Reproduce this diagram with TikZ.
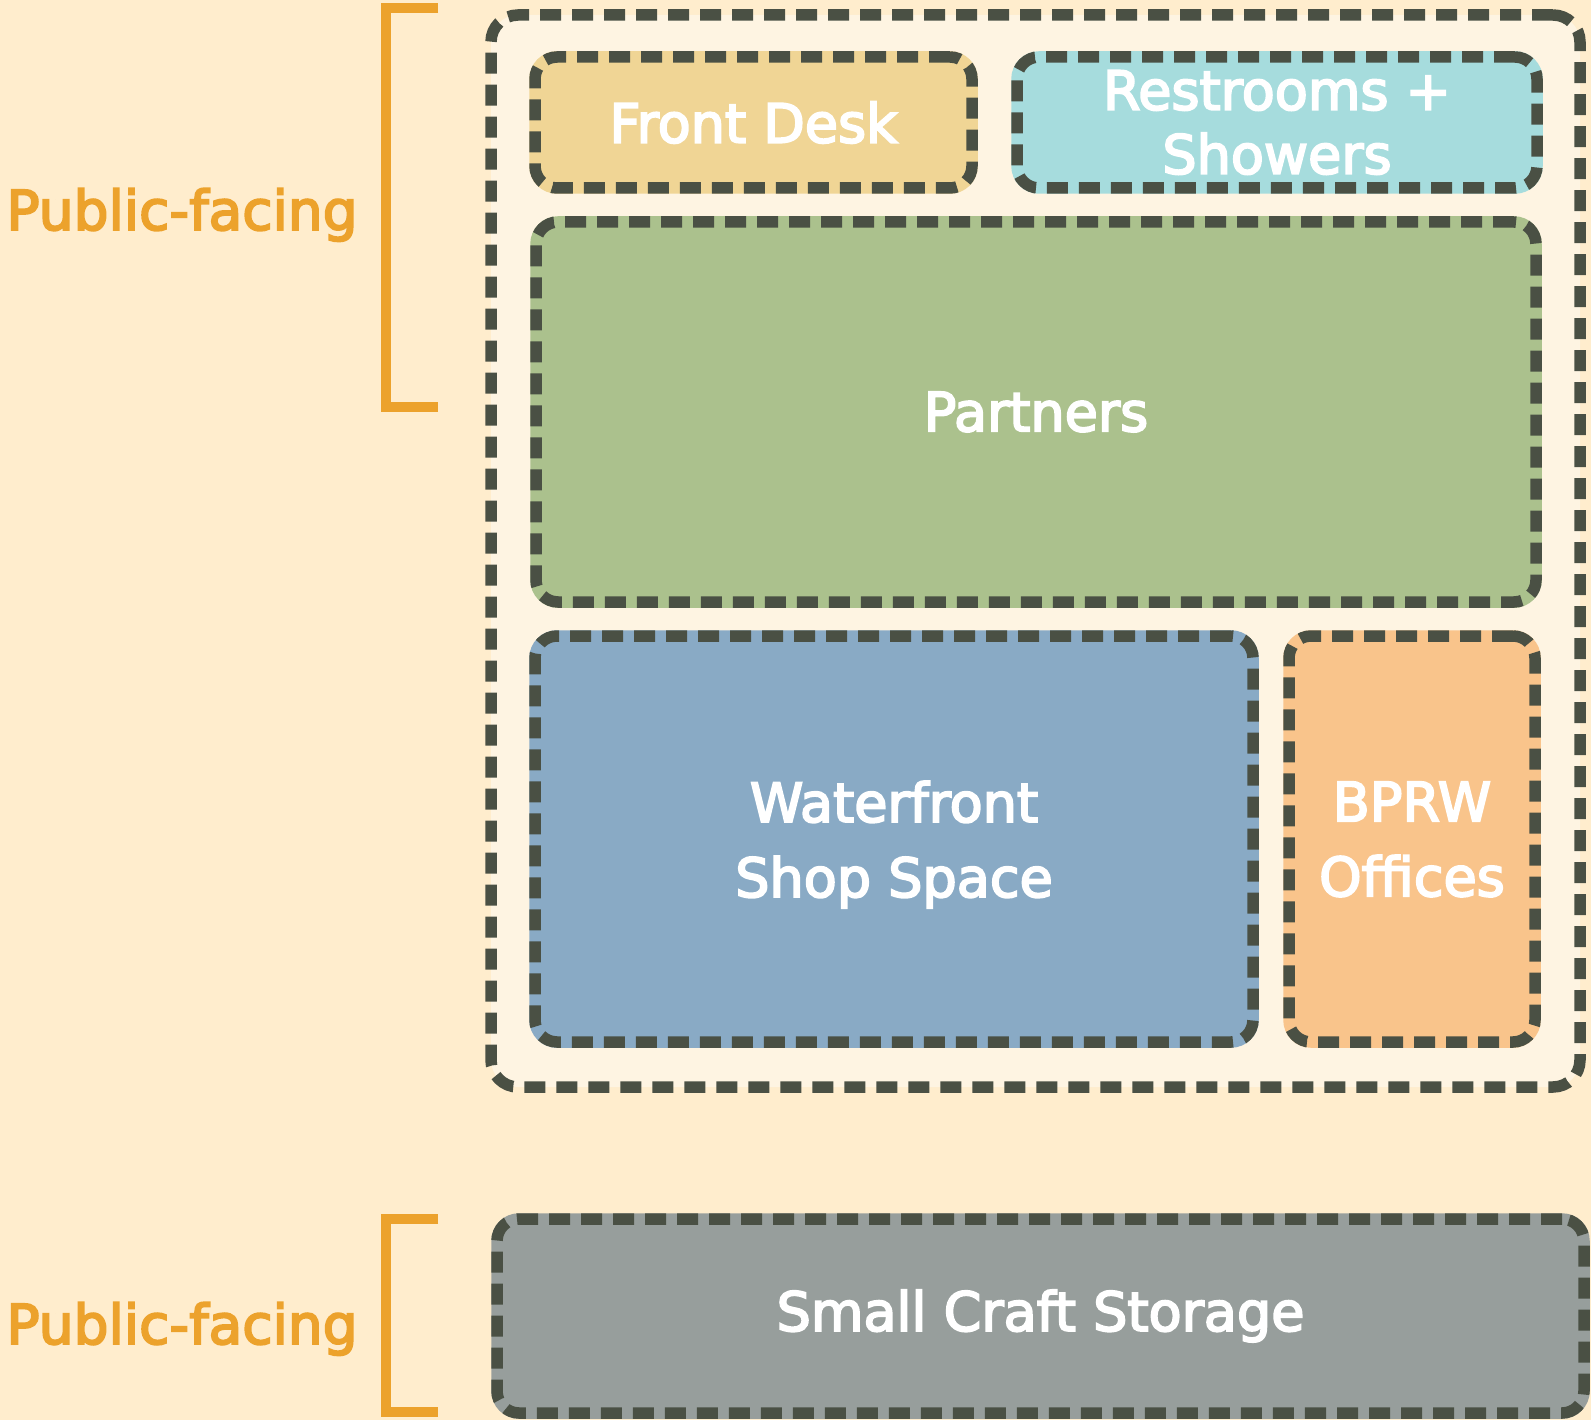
\documentclass[tikz,border=0pt]{standalone}
\usepackage{fontspec}
\setmainfont{DejaVu Sans}[FakeBold=3.5]
\definecolor{bgcol}{HTML}{FFEDCD}
\definecolor{outercol}{HTML}{FEF4E2}
\definecolor{dashcol}{HTML}{4A5044}
\definecolor{fdcol}{HTML}{F0D595}
\definecolor{rscol}{HTML}{A6DCDD}
\definecolor{ptcol}{HTML}{ABC18D}
\definecolor{wfcol}{HTML}{89AAC5}
\definecolor{bpcol}{HTML}{F9C48B}
\definecolor{sccol}{HTML}{979E9C}
\definecolor{orcol}{HTML}{ECA22C}
\tikzset{
  dashline/.style={draw=dashcol, line width=11.5pt, dash pattern=on 21pt off 11pt},
  box/.style={rectangle, inner sep=0pt, rounded corners=22pt, fill=#1,
    preaction={draw=#1, solid, line width=11.5pt}, dashline,
    text=white, align=center, font=\fontsize{54}{64}\selectfont},
  outerbox/.style={rectangle, inner sep=0pt, rounded corners=27pt, fill=outercol, dashline},
  sidelabel/.style={text=orcol, font=\fontsize{55}{60}\selectfont, inner sep=0pt, anchor=base},
  bracket/.style={draw=orcol, line width=10pt, line cap=butt, line join=miter}
}
\begin{document}
\begin{tikzpicture}[x=1pt, y=-1pt]
\useasboundingbox[fill=bgcol] (0,0) rectangle (1591,1420);
% outer group
\node[outerbox, minimum width=1089pt, minimum height=1072pt] (grp) at (1035.5,551) {};
% rooms
\node[box=fdcol, minimum width=437pt, minimum height=131pt] (fd) at (753.5,122.5) {Front Desk};
\node[box=rscol, minimum width=520pt, minimum height=131pt] (rs) at (1277,122.5) {Restrooms +\\Showers};
\node[box=ptcol, minimum width=1000pt, minimum height=380pt] (pt) at (1036,412) {Partners};
\node[box=wfcol, minimum width=718pt, minimum height=406pt, text depth=0pt, font=\fontsize{54}{75}\selectfont] (wf) at (894,839) {Waterfront\\Shop Space};
\node[box=bpcol, minimum width=246pt, minimum height=406pt, text depth=0pt, font=\fontsize{54}{75}\selectfont] (bp) at (1412,839) {BPRW\\Offices};
\node[box=sccol, minimum width=1087pt, minimum height=194pt] (sc) at (1040.5,1316) {Small Craft Storage};
% side labels
\node[sidelabel] (pf1) at (182,230) {Public-facing};
\node[sidelabel] (pf2) at (182,1344) {Public-facing};
% brackets
\coordinate (b1a) at (438,8);
\coordinate (b1b) at (438,407);
\coordinate (b2a) at (438,1219);
\coordinate (b2b) at (438,1412);
\draw[bracket] (b1a) -- (386,8) -- (386,407) -- (b1b);
\draw[bracket] (b2a) -- (386,1219) -- (386,1412) -- (b2b);
\end{tikzpicture}
\end{document}
